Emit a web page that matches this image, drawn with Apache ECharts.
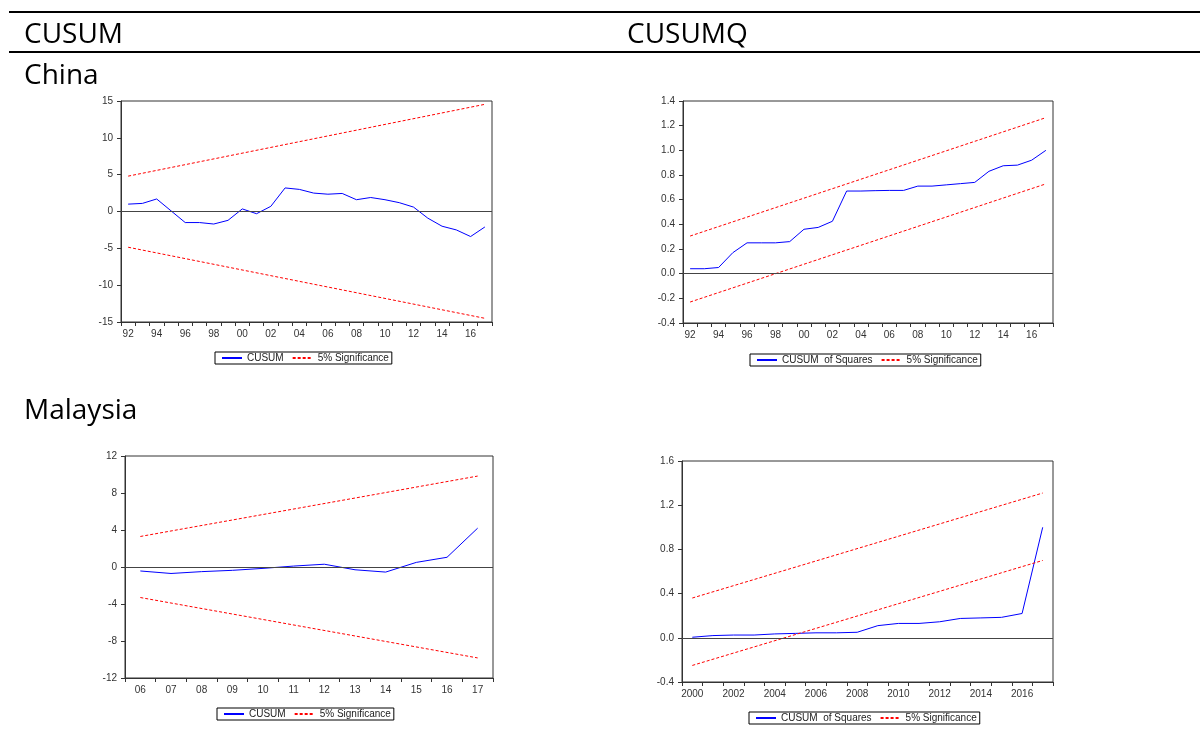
<!DOCTYPE html>
<html>
<head>
<meta charset="utf-8">
<script src="https://cdn.jsdelivr.net/npm/echarts@6/dist/echarts.min.js"></script>
<style>
html,body{margin:0;padding:0;background:#fff;}
#c{width:1200px;height:756px;}
</style>
</head>
<body>
<div id="c"></div>
<script>
// ---- Data ----
const chinaYears = ['92','93','94','95','96','97','98','99','00','01','02','03','04','05','06','07','08','09','10','11','12','13','14','15','16','17'];
const chinaCusum = [1.0,1.1,1.7,0.1,-1.5,-1.5,-1.7,-1.2,0.35,-0.3,0.7,3.2,3.0,2.5,2.35,2.45,1.6,1.9,1.6,1.2,0.6,-0.9,-2.0,-2.5,-3.4,-2.1];
const chinaCusumUpper = [4.8, 14.55];
const chinaCusumLower = [-4.85, -14.5];
const chinaCusumQ = [0.04,0.04,0.05,0.17,0.25,0.25,0.25,0.26,0.36,0.375,0.425,0.67,0.67,0.673,0.675,0.675,0.71,0.71,0.72,0.73,0.74,0.83,0.875,0.88,0.92,1.0];
const chinaCusumQUpper = [0.305, 1.265];
const chinaCusumQLower = [-0.23, 0.728];

const malYearsA = ['06','07','08','09','10','11','12','13','14','15','16','17'];
const malCusum = [-0.43,-0.7,-0.5,-0.36,-0.15,0.1,0.3,-0.3,-0.55,0.5,1.05,4.2];
const malCusumUpper = [3.3, 9.83];
const malCusumLower = [-3.3, -9.83];

const malYearsB = ['2000','2001','2002','2003','2004','2005','2006','2007','2008','2009','2010','2011','2012','2013','2014','2015','2016','2017'];
const malCusumQ = [0.005,0.02,0.025,0.025,0.035,0.04,0.045,0.045,0.05,0.11,0.13,0.13,0.145,0.175,0.18,0.185,0.22,1.0];
const malCusumQUpper = [0.36, 1.31];
const malCusumQLower = [-0.25, 0.70];

const headings = [
  {text:'CUSUM', x:24, y:35},
  {text:'CUSUMQ', x:627, y:35},
  {text:'China', x:24, y:76},
  {text:'Malaysia', x:24, y:411}
];

// ---- Layout ----
const grids = [
  {left:121, top:101, width:371, height:221},
  {left:683, top:101, width:370, height:222},
  {left:125, top:456, width:368, height:222},
  {left:682, top:461, width:371, height:221}
];
const yRanges = [
  {min:-15, max:15, interval:5, dec:0},
  {min:-0.4, max:1.4, interval:0.2, dec:1},
  {min:-12, max:12, interval:4, dec:0},
  {min:-0.4, max:1.6, interval:0.4, dec:1}
];
const cats = [chinaYears, chinaYears, malYearsA, malYearsB];
const labelIntervals = [1,1,0,1];
const mainNames = ['CUSUM','CUSUM of Squares','CUSUM','CUSUM of Squares'];
const mainData = [chinaCusum, chinaCusumQ, malCusum, malCusumQ];
const upper = [chinaCusumUpper, chinaCusumQUpper, malCusumUpper, malCusumQUpper];
const lower = [chinaCusumLower, chinaCusumQLower, malCusumLower, malCusumQLower];
const legendPos = [
  {left:215, top:352},
  {left:750, top:354},
  {left:217, top:708},
  {left:749, top:712}
];

const axisFont = 'Liberation Sans, Arial, sans-serif';
const frameColor = '#333';

const option = {
  animation:false,
  backgroundColor:'#fff',
  grid: grids.map(g => Object.assign({show:true, borderColor:frameColor, borderWidth:1, backgroundColor:'transparent'}, g)),
  xAxis: cats.map((c,i) => ({
    type:'category', gridIndex:i, data:c, boundaryGap:true,
    axisLine:{show:true, onZero:false, lineStyle:{color:frameColor, width:1}},
    axisTick:{show:true, interval:0, length:4, lineStyle:{color:frameColor}},
    axisLabel:{interval:labelIntervals[i], fontSize:10, fontFamily:axisFont, color:'#333', margin:7},
    splitLine:{show:false}
  })),
  yAxis: yRanges.map((r,i) => ({
    type:'value', gridIndex:i, min:r.min, max:r.max, interval:r.interval,
    axisLine:{show:true, lineStyle:{color:frameColor, width:1}},
    axisTick:{show:true, length:4, lineStyle:{color:frameColor}},
    axisLabel:{fontSize:10, fontFamily:axisFont, color:'#333', margin:8,
      formatter: v => (Math.abs(v) < 1e-9 ? 0 : v).toFixed(r.dec)},
    splitLine:{show:false}
  })),
  legend: legendPos.map((p,i) => ({
    left:p.left, top:p.top, orient:'horizontal',
    data:[mainNames[i], '5% Significance'],
    borderColor:'#000', borderWidth:1, padding:[1,3,1,6],
    itemWidth:20, itemHeight:9, itemGap:8,
    itemStyle:{opacity:0, color:'transparent', borderColor:'transparent', borderWidth:0},
    textStyle:{fontSize:10, fontFamily:axisFont, color:'#222'},
    selectedMode:false,
    formatter: n => n === 'CUSUM of Squares' ? 'CUSUM  of Squares' : n
  })),
  graphic: [
    {type:'line', shape:{x1:9, y1:12, x2:1200, y2:12}, style:{stroke:'#000', lineWidth:2}},
    {type:'line', shape:{x1:9, y1:52, x2:1200, y2:52}, style:{stroke:'#000', lineWidth:2}}
  ].concat(headings.map(h => ({
    type:'text', x:h.x, y:h.y,
    style:{text:h.text, font:'28px "Open Sans"', fill:'#000', verticalAlign:'middle', align:'left'}
  }))),
  series: []
};

for (let i = 0; i < 4; i++) {
  const n = cats[i].length;
  option.series.push({
    name: mainNames[i], type:'line', xAxisIndex:i, yAxisIndex:i,
    data: mainData[i], symbol:'none', silent:true,
    lineStyle:{color:'#0000ff', width:1}, itemStyle:{color:'#0000ff'},
    markLine:{silent:true, symbol:['none','none'], label:{show:false},
      lineStyle:{color:'#444', type:'solid', width:1}, data:[{yAxis:0}]},
    z:3
  });
  option.series.push({
    name:'5% Significance', type:'line', xAxisIndex:i, yAxisIndex:i,
    data: [[0, upper[i][0]], [n-1, upper[i][1]]], symbol:'none', silent:true,
    lineStyle:{color:'#ff0000', width:1, type:[3,2]}, itemStyle:{color:'#ff0000'}
  });
  option.series.push({
    name:'5% Significance', type:'line', xAxisIndex:i, yAxisIndex:i,
    data: [[0, lower[i][0]], [n-1, lower[i][1]]], symbol:'none', silent:true,
    lineStyle:{color:'#ff0000', width:1, type:[3,2]}, itemStyle:{color:'#ff0000'}
  });
}

const chart = echarts.init(document.getElementById('c'), null, {renderer:'canvas'});
chart.setOption(option);
</script>
</body>
</html>
